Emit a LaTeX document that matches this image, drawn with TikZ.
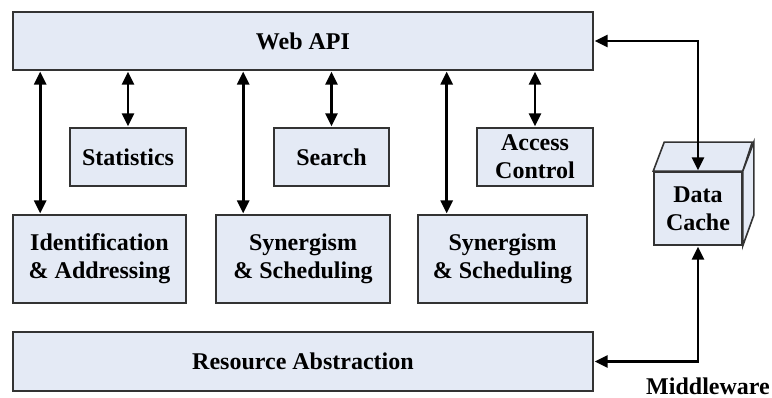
\documentclass[tikz,border=0pt]{standalone}
\usepackage{fontspec}
\setmainfont{Liberation Serif}
\usetikzlibrary{arrows.meta,calc}
\definecolor{boxfill}{HTML}{E4EAF5}
\definecolor{boxline}{HTML}{333333}
\begin{document}
\begin{tikzpicture}[x=1pt,y=-1pt,
  box/.style={draw=boxline,fill=boxfill,line width=1.6pt,inner sep=0pt,
    font=\fontsize{24}{28}\selectfont\bfseries,align=center},
  dbl/.style={line width=2.6pt,black,{Triangle[length=13pt,width=12pt]}-{Triangle[length=13pt,width=12pt]},shorten <=0.8pt,shorten >=0.8pt},
  lbl/.style={font=\fontsize{24}{28}\selectfont\bfseries,inner sep=0pt}]
\path[use as bounding box,fill=white] (0,0) rectangle (772,398);

\node[box,minimum width=580pt,minimum height=58pt] (api) at (303,41) {Web API};
\node[box,minimum width=116pt,minimum height=58pt] (stats) at (128,157) {Statistics};
\node[box,minimum width=115pt,minimum height=58pt] (search) at (331.5,157) {Search};
\node[box,minimum width=116pt,minimum height=58pt] (access) at (535,157) {Access\\Control};
\node[box,minimum width=173pt,minimum height=88pt] (ident) at (99.5,259) {Identification\\\& Addressing};
\node[box,minimum width=174pt,minimum height=88pt] (syn1) at (303,259) {Synergism\\\& Scheduling};
\node[box,minimum width=169pt,minimum height=88pt] (syn2) at (502.5,259) {Synergism\\\& Scheduling};
\node[box,minimum width=580pt,minimum height=59pt] (res) at (303,361.5) {Resource Abstraction};

% Data cache cube
\node[box,minimum width=88pt,minimum height=73pt] (cache) at (698,208.5) {Data\\Cache};
\draw[boxline,fill=boxfill,line width=1.6pt,line join=miter]
  (cache.north west) -- ++(11,-29) -- ++(88,0) -- (cache.north east) -- cycle;
\draw[boxline,fill=boxfill,line width=1.6pt,line join=miter]
  (cache.north east) -- ++(11,-29) -- ++(0,73) -- (cache.south east) -- cycle;

\node[lbl] (mw) at (708,386) {Middleware};

% connectors
\draw[dbl] ([xshift=28pt]ident.north west |- api.south) -- ([xshift=28pt]ident.north west);
\draw[dbl] (stats.north |- api.south) -- (stats.north);
\draw[dbl] ([xshift=28pt]syn1.north west |- api.south) -- ([xshift=28pt]syn1.north west);
\draw[dbl] (search.north |- api.south) -- (search.north);
\draw[dbl] ([xshift=29.5pt]syn2.north west |- api.south) -- ([xshift=29.5pt]syn2.north west);
\draw[dbl] (access.north |- api.south) -- (access.north);
\draw[dbl] (api.east) -| (cache.north);
\draw[dbl] (cache.south) |- (res.east);
\end{tikzpicture}
\end{document}
